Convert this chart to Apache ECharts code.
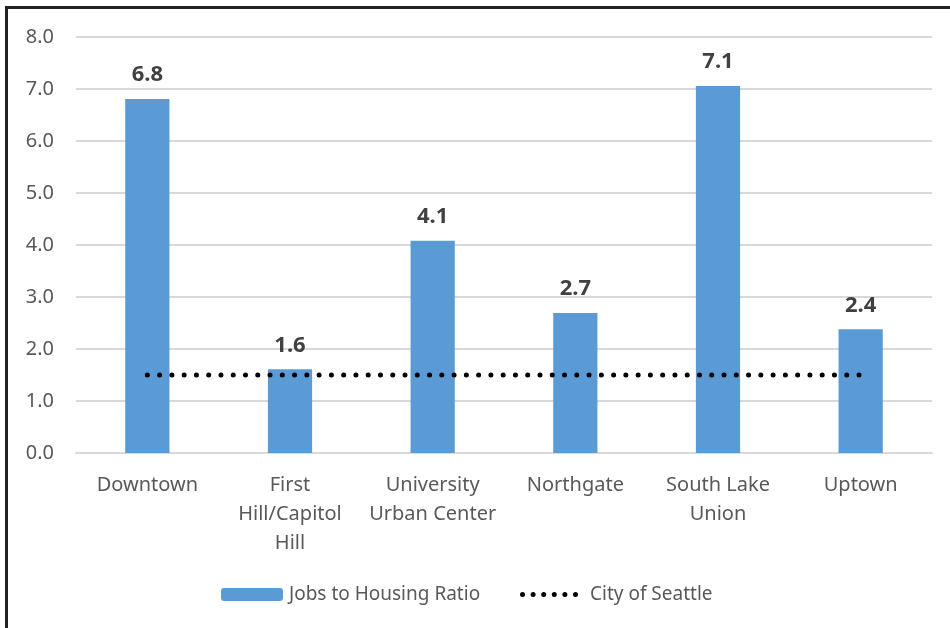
<!DOCTYPE html>
<html>
<head>
<meta charset="utf-8">
<script src="https://cdn.jsdelivr.net/npm/echarts@6/dist/echarts.min.js"></script>
<style>
  html, body { margin: 0; padding: 0; background: #fff; }
  #frame {
    position: absolute; left: 5px; top: 6px; width: 1000px; height: 700px;
    border-top: 3px solid #222; border-left: 3px solid #222;
  }
  #chart { position: absolute; left: 0; top: 0; width: 950px; height: 628px; }
</style>
</head>
<body>
<div id="frame"></div>
<div id="chart"></div>
<script>
// chart data
const categories = ['Downtown', 'First\nHill/Capitol\nHill', 'University\nUrban Center', 'Northgate', 'South Lake\nUnion', 'Uptown'];
const jobsRatio = [6.81, 1.61, 4.08, 2.69, 7.06, 2.38];
const cityRatio = [1.5, 1.5, 1.5, 1.5, 1.5, 1.5];

const FONT = '"Noto Sans", sans-serif';

// six round dots for the dotted-line legend icon
let dotsPath = 'path://';
for (let i = 0; i < 6; i++) {
  const cx = 2.5 + i * 10.6;
  dotsPath += 'M' + (cx - 2.5) + ',2.5a2.5,2.5 0 1,0 5,0a2.5,2.5 0 1,0 -5,0';
}

const chart = echarts.init(document.getElementById('chart'));

chart.setOption({
  animation: false,
  textStyle: { fontFamily: FONT },
  grid: { left: 76, right: 18, top: 37, bottom: 175 },
  legend: [
    {
      left: 221, top: 585, padding: 0,
      itemWidth: 62, itemHeight: 13,
      textStyle: { fontSize: 19, color: '#595959', fontFamily: FONT, padding: [0, 0, 0, 1] },
      data: ['Jobs to Housing Ratio']
    },
    {
      left: 520, top: 585, padding: 0,
      itemWidth: 58, itemHeight: 5,
      textStyle: { fontSize: 19, color: '#595959', fontFamily: FONT, padding: [0, 0, 0, 7] },
      data: [{ name: 'City of Seattle', icon: dotsPath, itemStyle: { color: '#000' } }]
    }
  ],
  xAxis: {
    type: 'category',
    data: categories,
    axisLine: { lineStyle: { color: '#d9d9d9', width: 2 } },
    axisTick: { show: false },
    axisLabel: { fontSize: 20, color: '#595959', lineHeight: 29, margin: 18, interval: 0 }
  },
  yAxis: {
    type: 'value',
    min: 0, max: 8, interval: 1,
    axisLabel: { fontSize: 20, color: '#595959', margin: 22, formatter: v => v.toFixed(1) },
    splitLine: { lineStyle: { color: '#d9d9d9', width: 2 } },
    axisLine: { show: false },
    axisTick: { show: false }
  },
  series: [
    {
      name: 'Jobs to Housing Ratio',
      type: 'bar',
      data: jobsRatio,
      barWidth: '31%',
      itemStyle: { color: '#5b9bd5' },
      label: {
        show: true, position: 'top', distance: 13,
        fontSize: 22, fontWeight: 'bold', color: '#404040',
        formatter: p => p.value.toFixed(1)
      }
    },
    {
      name: 'City of Seattle',
      type: 'line',
      data: cityRatio,
      symbol: 'none',
      itemStyle: { color: '#000' },
      lineStyle: { color: '#000', width: 5, type: [0.01, 12.26], cap: 'round' },
      z: 5
    }
  ]
});
</script>
</body>
</html>
